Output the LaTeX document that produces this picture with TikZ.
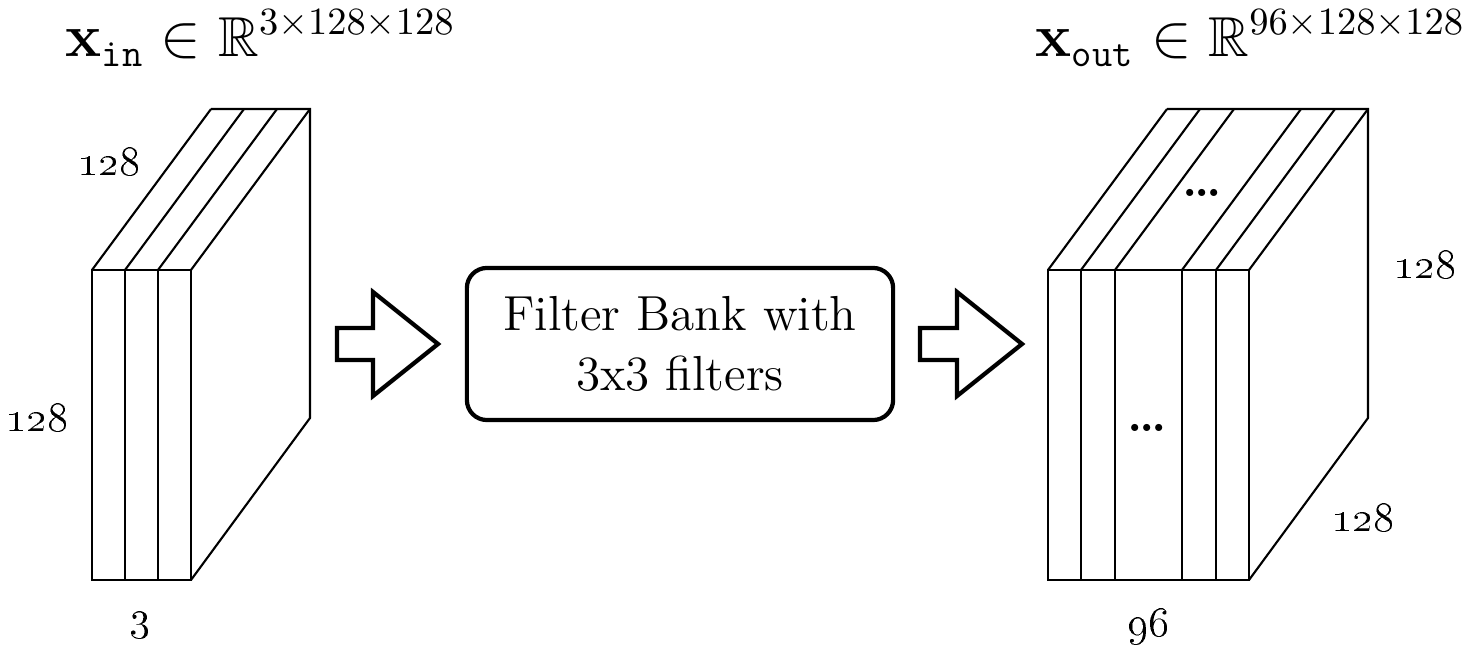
\documentclass[tikz,border=0pt]{standalone}
\usepackage{tikz}
\usetikzlibrary{positioning}
\usepackage{amsmath}
\usepackage{amssymb}

\begin{document}
\begin{tikzpicture}[x=0.01cm, y=-0.01cm,
  slab/.style={line width=0.6pt, line join=miter},
  fat/.style={line width=1.2pt, line join=miter},
  dim/.style={font=\fontsize{13}{15}\selectfont, inner sep=0pt},
  tensor/.style={font=\fontsize{16}{19}\selectfont, inner sep=0pt, anchor=base west},
  bank/.style={draw, line width=1.2pt, rounded corners=0.2cm, minimum width=4.26cm, minimum height=1.52cm, align=center, font=\fontsize{14}{17}\selectfont},
  dots/.style={font=\fontsize{14}{16}\selectfont\bfseries, inner sep=0pt}]
  \useasboundingbox (0,0) rectangle (1469,655);

  % input tensor, 3 slices
  \draw[slab] (92,270) rectangle (191,580);
  \draw[slab] (125,270) -- (125,580);
  \draw[slab] (158,270) -- (158,580);
  \foreach \s in {92,125,158,191}
    \draw[slab] (\s,270) -- ++(119,-161);
  \draw[slab] (211,109) -- (310,109) -- (310,418) -- (191,580);

  % output tensor, 96 slices
  \draw[slab] (1048,270) rectangle (1249,580);
  \foreach \s in {1081,1115,1182,1216}
    \draw[slab] (\s,270) -- (\s,580);
  \foreach \s in {1048,1081,1115,1182,1216,1249}
    \draw[slab] (\s,270) -- ++(119,-161);
  \draw[slab] (1167,109) -- (1368,109) -- (1368,418) -- (1249,580);
  \node[dots] (dotsFront) at (1147,428) {.\kern-0.9pt.\kern-0.9pt.};
  \node[dots] (dotsTop) at (1202,193) {.\kern-0.9pt.\kern-0.9pt.};

  % labels
  \node[tensor] (xin) at (65,57) {$\mathbf{x}_{\texttt{in}} \in \mathbb{R}^{3\times 128\times 128}$};
  \node[tensor] (xout) at (1035,57) {$\mathbf{x}_{\texttt{out}} \in \mathbb{R}^{96\times 128\times 128}$};
  \node[dim] (inDepth) at (109,162) {\oldstylenums{128}};
  \node[dim] (inHeight) at (37,418) {\oldstylenums{128}};
  \node[dim] (inChan) at (140,625) {\oldstylenums{3}};
  \node[dim] (outHeight) at (1425,265) {\oldstylenums{128}};
  \node[dim] (outDepth) at (1363,518) {\oldstylenums{128}};
  \node[dim] (outChan) at (1148,627) {\oldstylenums{96}};

  % filter bank
  \node[bank] (filters) at (680,344) {Filter Bank with\\3x3 filters};

  % block arrows
  \draw[fat] (337,328) -- (373,328) -- (373,292) -- (438,344) -- (373,396) -- (373,360) -- (337,360) -- cycle;
  \draw[fat] (920,328) -- (957,328) -- (957,292) -- (1022,344) -- (957,396) -- (957,360) -- (920,360) -- cycle;
\end{tikzpicture}
\end{document}
